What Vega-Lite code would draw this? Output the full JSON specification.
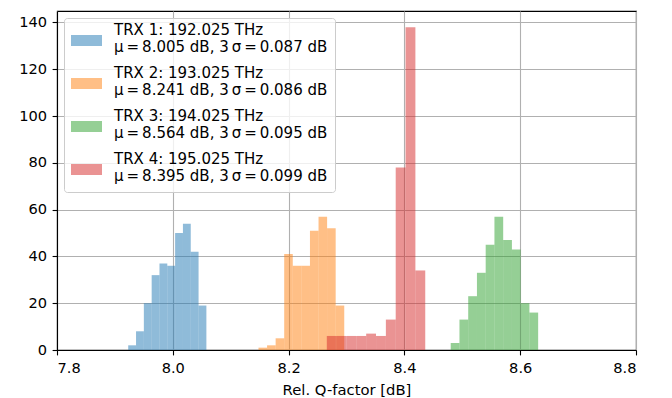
{
  "$schema": "https://vega.github.io/schema/vega-lite/v6.json",
  "width": 579,
  "height": 339,
  "autosize": {"type": "none"},
  "padding": {"left": 57, "top": 11, "right": 36, "bottom": 48},
  "background": "white",
  "config": {
    "font": "DejaVu Sans",
    "view": {"stroke": "black", "strokeWidth": 1.1},
    "axis": {
      "domainColor": "black",
      "domainWidth": 1.1,
      "tickColor": "black",
      "tickWidth": 1.1,
      "tickSize": 4.9,
      "labelPadding": 5.5,
      "labelFont": "DejaVu Sans",
      "labelFontSize": 14.6,
      "labelColor": "black",
      "titleFont": "DejaVu Sans",
      "titleFontSize": 14.8,
      "titleFontWeight": "normal",
      "titleColor": "black",
      "grid": true,
      "gridColor": "#b0b0b0",
      "gridWidth": 1.1,
      "zindex": 1
    }
  },
  "datasets": {
    "hist": [
      {"trx": "TRX 1: 192.025 THz|μ\u2009=\u20098.005 dB, 3\u2009σ\u2009=\u20090.087 dB", "x0": 7.923, "x1": 7.9365, "count": 2},
      {"trx": "TRX 1: 192.025 THz|μ\u2009=\u20098.005 dB, 3\u2009σ\u2009=\u20090.087 dB", "x0": 7.9365, "x1": 7.95, "count": 8},
      {"trx": "TRX 1: 192.025 THz|μ\u2009=\u20098.005 dB, 3\u2009σ\u2009=\u20090.087 dB", "x0": 7.95, "x1": 7.9635, "count": 20},
      {"trx": "TRX 1: 192.025 THz|μ\u2009=\u20098.005 dB, 3\u2009σ\u2009=\u20090.087 dB", "x0": 7.9635, "x1": 7.977, "count": 32},
      {"trx": "TRX 1: 192.025 THz|μ\u2009=\u20098.005 dB, 3\u2009σ\u2009=\u20090.087 dB", "x0": 7.977, "x1": 7.9905, "count": 37},
      {"trx": "TRX 1: 192.025 THz|μ\u2009=\u20098.005 dB, 3\u2009σ\u2009=\u20090.087 dB", "x0": 7.9905, "x1": 8.004, "count": 36},
      {"trx": "TRX 1: 192.025 THz|μ\u2009=\u20098.005 dB, 3\u2009σ\u2009=\u20090.087 dB", "x0": 8.004, "x1": 8.0175, "count": 50},
      {"trx": "TRX 1: 192.025 THz|μ\u2009=\u20098.005 dB, 3\u2009σ\u2009=\u20090.087 dB", "x0": 8.0175, "x1": 8.031, "count": 54},
      {"trx": "TRX 1: 192.025 THz|μ\u2009=\u20098.005 dB, 3\u2009σ\u2009=\u20090.087 dB", "x0": 8.031, "x1": 8.0445, "count": 42},
      {"trx": "TRX 1: 192.025 THz|μ\u2009=\u20098.005 dB, 3\u2009σ\u2009=\u20090.087 dB", "x0": 8.0445, "x1": 8.058, "count": 19},

      {"trx": "TRX 2: 193.025 THz|μ\u2009=\u20098.241 dB, 3\u2009σ\u2009=\u20090.086 dB", "x0": 8.148, "x1": 8.1628, "count": 1},
      {"trx": "TRX 2: 193.025 THz|μ\u2009=\u20098.241 dB, 3\u2009σ\u2009=\u20090.086 dB", "x0": 8.1628, "x1": 8.1776, "count": 2},
      {"trx": "TRX 2: 193.025 THz|μ\u2009=\u20098.241 dB, 3\u2009σ\u2009=\u20090.086 dB", "x0": 8.1776, "x1": 8.1924, "count": 5},
      {"trx": "TRX 2: 193.025 THz|μ\u2009=\u20098.241 dB, 3\u2009σ\u2009=\u20090.086 dB", "x0": 8.1924, "x1": 8.2072, "count": 41},
      {"trx": "TRX 2: 193.025 THz|μ\u2009=\u20098.241 dB, 3\u2009σ\u2009=\u20090.086 dB", "x0": 8.2072, "x1": 8.222, "count": 36},
      {"trx": "TRX 2: 193.025 THz|μ\u2009=\u20098.241 dB, 3\u2009σ\u2009=\u20090.086 dB", "x0": 8.222, "x1": 8.2369, "count": 36},
      {"trx": "TRX 2: 193.025 THz|μ\u2009=\u20098.241 dB, 3\u2009σ\u2009=\u20090.086 dB", "x0": 8.2369, "x1": 8.2517, "count": 51},
      {"trx": "TRX 2: 193.025 THz|μ\u2009=\u20098.241 dB, 3\u2009σ\u2009=\u20090.086 dB", "x0": 8.2517, "x1": 8.2665, "count": 57},
      {"trx": "TRX 2: 193.025 THz|μ\u2009=\u20098.241 dB, 3\u2009σ\u2009=\u20090.086 dB", "x0": 8.2665, "x1": 8.2813, "count": 52},
      {"trx": "TRX 2: 193.025 THz|μ\u2009=\u20098.241 dB, 3\u2009σ\u2009=\u20090.086 dB", "x0": 8.2813, "x1": 8.2961, "count": 19},

      {"trx": "TRX 3: 194.025 THz|μ\u2009=\u20098.564 dB, 3\u2009σ\u2009=\u20090.095 dB", "x0": 8.48, "x1": 8.4951, "count": 3},
      {"trx": "TRX 3: 194.025 THz|μ\u2009=\u20098.564 dB, 3\u2009σ\u2009=\u20090.095 dB", "x0": 8.4951, "x1": 8.5102, "count": 13},
      {"trx": "TRX 3: 194.025 THz|μ\u2009=\u20098.564 dB, 3\u2009σ\u2009=\u20090.095 dB", "x0": 8.5102, "x1": 8.5253, "count": 23},
      {"trx": "TRX 3: 194.025 THz|μ\u2009=\u20098.564 dB, 3\u2009σ\u2009=\u20090.095 dB", "x0": 8.5253, "x1": 8.5404, "count": 33},
      {"trx": "TRX 3: 194.025 THz|μ\u2009=\u20098.564 dB, 3\u2009σ\u2009=\u20090.095 dB", "x0": 8.5404, "x1": 8.5555, "count": 45},
      {"trx": "TRX 3: 194.025 THz|μ\u2009=\u20098.564 dB, 3\u2009σ\u2009=\u20090.095 dB", "x0": 8.5555, "x1": 8.5706, "count": 57},
      {"trx": "TRX 3: 194.025 THz|μ\u2009=\u20098.564 dB, 3\u2009σ\u2009=\u20090.095 dB", "x0": 8.5706, "x1": 8.5857, "count": 47},
      {"trx": "TRX 3: 194.025 THz|μ\u2009=\u20098.564 dB, 3\u2009σ\u2009=\u20090.095 dB", "x0": 8.5857, "x1": 8.6008, "count": 43},
      {"trx": "TRX 3: 194.025 THz|μ\u2009=\u20098.564 dB, 3\u2009σ\u2009=\u20090.095 dB", "x0": 8.6008, "x1": 8.6159, "count": 20},
      {"trx": "TRX 3: 194.025 THz|μ\u2009=\u20098.564 dB, 3\u2009σ\u2009=\u20090.095 dB", "x0": 8.6159, "x1": 8.631, "count": 16},

      {"trx": "TRX 4: 195.025 THz|μ\u2009=\u20098.395 dB, 3\u2009σ\u2009=\u20090.099 dB", "x0": 8.266, "x1": 8.283, "count": 6},
      {"trx": "TRX 4: 195.025 THz|μ\u2009=\u20098.395 dB, 3\u2009σ\u2009=\u20090.099 dB", "x0": 8.283, "x1": 8.3, "count": 6},
      {"trx": "TRX 4: 195.025 THz|μ\u2009=\u20098.395 dB, 3\u2009σ\u2009=\u20090.099 dB", "x0": 8.3, "x1": 8.317, "count": 6},
      {"trx": "TRX 4: 195.025 THz|μ\u2009=\u20098.395 dB, 3\u2009σ\u2009=\u20090.099 dB", "x0": 8.317, "x1": 8.334, "count": 6},
      {"trx": "TRX 4: 195.025 THz|μ\u2009=\u20098.395 dB, 3\u2009σ\u2009=\u20090.099 dB", "x0": 8.334, "x1": 8.351, "count": 7},
      {"trx": "TRX 4: 195.025 THz|μ\u2009=\u20098.395 dB, 3\u2009σ\u2009=\u20090.099 dB", "x0": 8.351, "x1": 8.368, "count": 6},
      {"trx": "TRX 4: 195.025 THz|μ\u2009=\u20098.395 dB, 3\u2009σ\u2009=\u20090.099 dB", "x0": 8.368, "x1": 8.385, "count": 13},
      {"trx": "TRX 4: 195.025 THz|μ\u2009=\u20098.395 dB, 3\u2009σ\u2009=\u20090.099 dB", "x0": 8.385, "x1": 8.402, "count": 78},
      {"trx": "TRX 4: 195.025 THz|μ\u2009=\u20098.395 dB, 3\u2009σ\u2009=\u20090.099 dB", "x0": 8.402, "x1": 8.419, "count": 138},
      {"trx": "TRX 4: 195.025 THz|μ\u2009=\u20098.395 dB, 3\u2009σ\u2009=\u20090.099 dB", "x0": 8.419, "x1": 8.436, "count": 34}
    ]
  },
  "data": {"name": "hist"},
  "mark": {"type": "bar", "opacity": 0.5, "strokeWidth": 0},
  "encoding": {
    "x": {
      "field": "x0",
      "type": "quantitative",
      "scale": {"domain": [7.8, 8.8], "nice": false, "zero": false},
      "axis": {"values": [7.8, 8.0, 8.2, 8.4, 8.6, 8.8], "format": ".1f", "title": "Rel. Q-factor [dB]", "titlePadding": 7}
    },
    "x2": {"field": "x1"},
    "y": {
      "field": "count",
      "type": "quantitative",
      "scale": {"domain": [0, 144.9], "nice": false},
      "axis": {"values": [0, 20, 40, 60, 80, 100, 120, 140], "title": null}
    },
    "y2": {"datum": 0},
    "color": {
      "field": "trx",
      "type": "nominal",
      "sort": null,
      "scale": {
        "domain": [
          "TRX 1: 192.025 THz|μ\u2009=\u20098.005 dB, 3\u2009σ\u2009=\u20090.087 dB",
          "TRX 2: 193.025 THz|μ\u2009=\u20098.241 dB, 3\u2009σ\u2009=\u20090.086 dB",
          "TRX 3: 194.025 THz|μ\u2009=\u20098.564 dB, 3\u2009σ\u2009=\u20090.095 dB",
          "TRX 4: 195.025 THz|μ\u2009=\u20098.395 dB, 3\u2009σ\u2009=\u20090.099 dB"
        ],
        "range": ["#1f77b4", "#ff7f0e", "#2ca02c", "#d62728"]
      },
      "legend": {
        "title": null,
        "orient": "top-left",
        "offset": 7,
        "padding": 7,
        "fillColor": "rgba(255,255,255,0.8)",
        "strokeColor": "#cccccc",
        "cornerRadius": 3,
        "symbolType": "M-1,-0.355H1V0.355H-1Z",
        "symbolSize": 961,
        "symbolOpacity": 0.5,
        "symbolStrokeWidth": 0,
        "labelFont": "DejaVu Sans",
        "labelFontSize": 15,
        "labelColor": "black",
        "labelLimit": 0,
        "labelOffset": 12,
        "rowPadding": 9,
        "labelExpr": "split(datum.label, '|')",
        "zindex": 2,
        "labelBaseline": "middle",
        "encode": {"labels": {"update": {"lineHeight": {"value": 17.6}, "dy": {"value": -11}}}}
      }
    }
  }
}
